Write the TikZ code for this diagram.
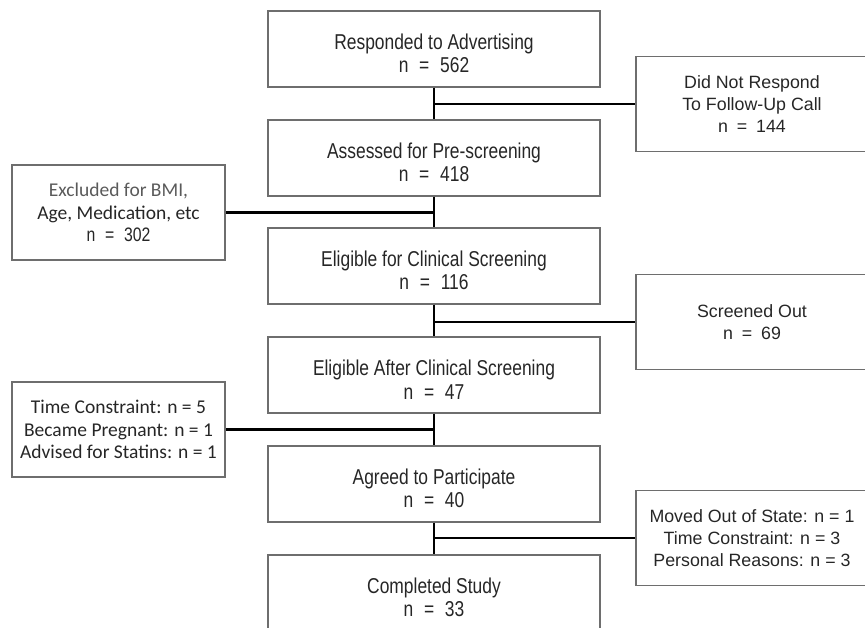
\documentclass[tikz,border=0pt]{standalone}
\usepackage{fontspec}
\setmainfont{Liberation Sans}
\newfontfamily\flowfont[FakeStretch=0.81]{Liberation Sans}
\newfontfamily\notefont{Carlito}
\usepackage{tikz}
\usetikzlibrary{positioning}

\definecolor{boxgray}{HTML}{6E6E6E}
\definecolor{txtgray}{HTML}{262626}
\definecolor{softgray}{HTML}{5A5A5A}

\newcommand{\nval}[1]{n\enspace=\enspace#1}

\tikzset{
  stage/.style={draw=boxgray, line width=1.1pt, inner sep=0pt, align=center,
    minimum width=332pt, minimum height=76pt, text=txtgray, text height=48pt,
    font=\flowfont\fontsize{21.5}{23.5}\selectfont},
  dropright/.style={draw=boxgray, line width=1.1pt, inner sep=0pt, align=center,
    minimum width=232pt, minimum height=95pt, text=txtgray,
    font=\fontsize{17.8}{22}\selectfont},
  dropleft/.style={draw=boxgray, line width=1.1pt, inner sep=0pt, align=center,
    minimum width=213pt, minimum height=95pt, text=txtgray,
    font=\notefont\fontsize{19.5}{22.5}\selectfont},
  link/.style={line width=2.2pt, black}
}

\begin{document}
\begin{tikzpicture}[x=1pt,y=-1pt]
  \useasboundingbox (0,0) rectangle (865,627);

  %% Main column of stages
  \foreach \i/\y/\txt in {
    1/49/{Responded to Advertising\\\nval{562}},
    2/158/{Assessed for Pre-screening\\\nval{418}},
    3/266/{Eligible for Clinical Screening\\\nval{116}},
    4/375/{Eligible After Clinical Screening\\\nval{47}},
    5/484/{Agreed to Participate\\\nval{40}},
    6/593/{Completed Study\\\nval{33}}}
  {
    \node[stage] (ST\i) at (434,\y) {\txt};
  }

  %% Boxes for those who dropped out
  \node[dropright] (DR1) at (752,104)
    {Did Not Respond\\To Follow-Up Call\\\nval{144}};
  \node[dropleft] (DL2) at (118.5,212.5)
    {\textcolor{softgray}{Excluded for BMI,}\\Age, Medication, etc\\{\flowfont\nval{302}}};
  \node[dropright] (DR3) at (752,322)
    {Screened Out\\\nval{69}};
  \node[dropleft] (DL4) at (118.5,429.5)
    {Time Constraint: n = 5\\Became Pregnant: n = 1\\Advised for Statins: n = 1};
  \node[dropright] (DR5) at (752,538)
    {Moved Out of State: n = 1\\Time Constraint: n = 3\\Personal Reasons: n = 3};

  %% Connectors
  \foreach \a/\b in {1/2,2/3,3/4,4/5,5/6}
  {
    \draw[link] (ST\a) -- (ST\b);
  }
  \foreach \x/\s in {1/DR1,3/DR3,5/DR5,2/DL2,4/DL4}
  {
    \draw[link] (ST\x.south |- \s.center) -- (\s);
  }
\end{tikzpicture}
\end{document}
